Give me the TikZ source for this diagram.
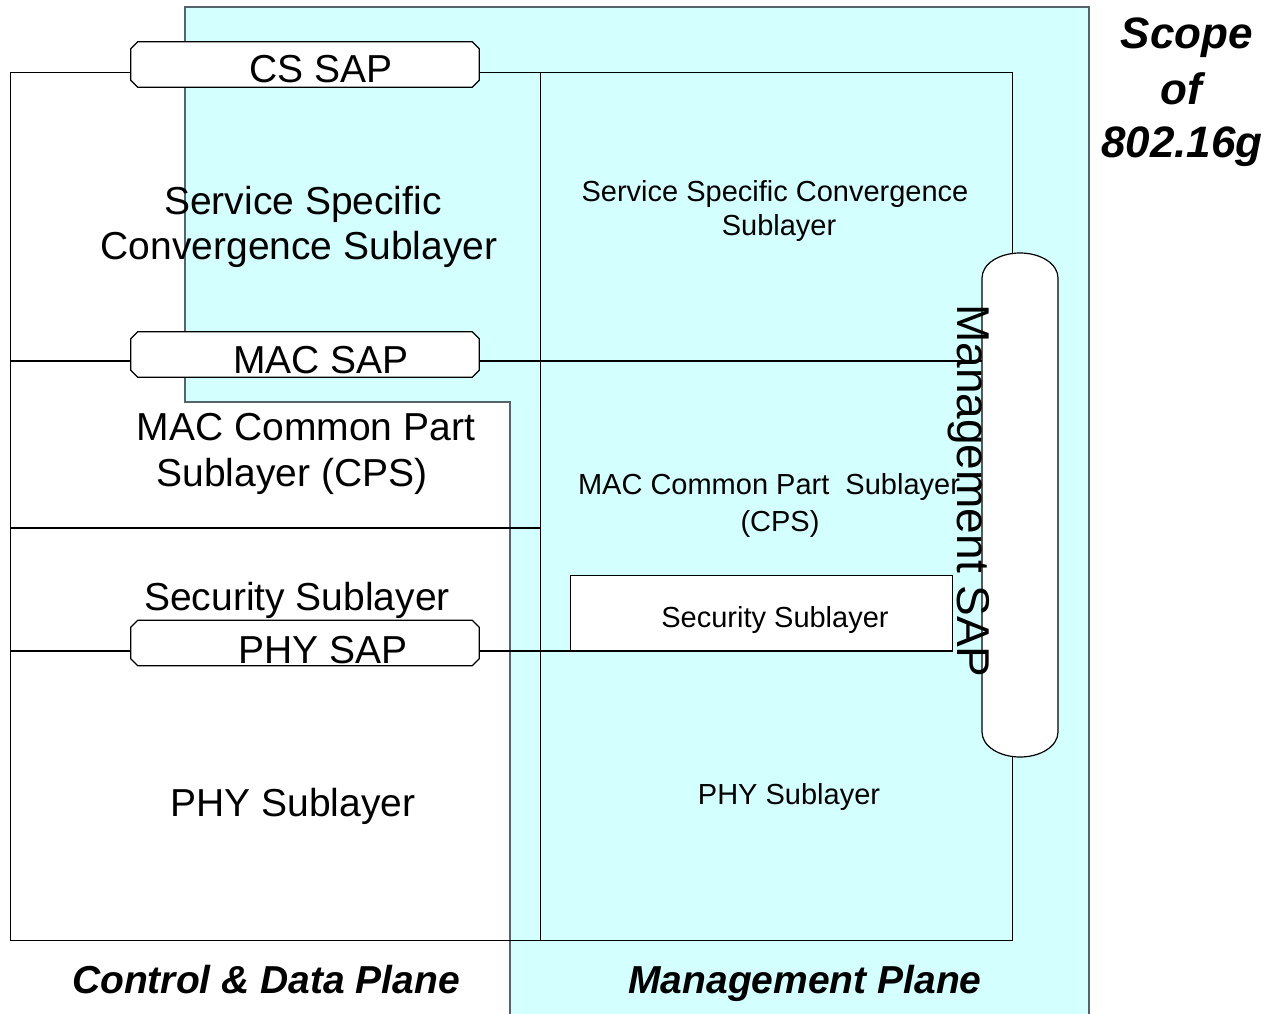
\documentclass[tikz,border=0pt]{standalone}
\usepackage{fontspec}
\setmainfont{Liberation Sans}
\usetikzlibrary{calc}
\definecolor{scopefill}{RGB}{212,255,255}
\definecolor{scopeedge}{RGB}{85,100,108}
\begin{document}
\begin{tikzpicture}[x=0.75pt,y=-0.75pt,
  line/.style={draw=black, line width=0.9pt},
  layerbox/.style={draw=black, line width=0.9pt, rectangle, inner sep=0pt, anchor=north west},
  sap/.style={rectangle, draw=none, minimum width=261pt, minimum height=33.75pt, inner sep=0pt},
  chamfer/.style={draw=black, line width=0.9pt, fill=white},
  bigtext/.style={anchor=base, inner sep=0pt, font=\fontsize{29.25pt}{35pt}\selectfont},
  smalltext/.style={anchor=base, inner sep=0pt, font=\fontsize{21.75pt}{26pt}\selectfont},
  planetext/.style={anchor=base, inner sep=0pt, font=\fontsize{29.25pt}{35pt}\selectfont\bfseries\itshape},
  scopetext/.style={anchor=base, inner sep=0pt, font=\fontsize{33pt}{40pt}\selectfont\bfseries\itshape},
  msaptext/.style={anchor=base, inner sep=0pt, rotate=-90, font=\fontsize{34.5pt}{40pt}\selectfont}]
\useasboundingbox (0,0) rectangle (1280,1013);
\fill[white] (0,0) rectangle (1280,1013);

% scope of 802.16g (cyan region)
\path[fill=scopefill, draw=scopeedge, line width=1pt]
  (185,7) -- (1089,7) -- (1089,1018) -- (510,1018) -- (510,402) -- (185,402) -- cycle;

% layer boxes
\node[layerbox, minimum width=397.5pt, minimum height=651pt] (cdp) at (10,72) {};
\node[layerbox, minimum width=354pt, minimum height=651pt] (mp) at (540,72) {};

\coordinate (ymac) at (0,361);
\coordinate (ysec) at (0,528);
\coordinate (yphy) at (0,651);
\coordinate (secr) at (952,651);
\draw[line] (cdp.west |- ymac) -- (mp.east |- ymac);
\draw[line] (cdp.west |- ysec) -- (cdp.east |- ysec);
\draw[line] (cdp.west |- yphy) -- (secr);

% security sublayer box (management plane)
\node[layerbox, fill=white, minimum width=286.5pt, minimum height=57pt] (secm) at (570,575) {};
\draw[line] (cdp.east |- yphy) -- (secr);

% SAP boxes (chamfered)
\foreach \n/\y in {cssap/64.5, macsap/354.5, physap/643}{
  \node[sap] (\n) at (305,\y) {};
  \path[chamfer]
    ($(\n.north west)+(7,0)$) -- ($(\n.north east)+(-7,0)$) -- ($(\n.north east)+(0,7)$)
    -- ($(\n.south east)+(0,-7)$) -- ($(\n.south east)+(-7,0)$) -- ($(\n.south west)+(7,0)$)
    -- ($(\n.south west)+(0,-7)$) -- ($(\n.north west)+(0,7)$) -- cycle;
}

% Management SAP
\path[fill=white, draw=black, line width=0.9pt]
  (982,278) .. controls (982,264) and (999,253) .. (1020,253)
  .. controls (1041,253) and (1058,264) .. (1058,278)
  -- (1058,732) .. controls (1058,746) and (1041,757) .. (1020,757)
  .. controls (999,757) and (982,746) .. (982,732) -- cycle;

% SAP labels
\node[bigtext] (cssapt) at (321,83) {CS SAP};
\node[bigtext] (macsapt) at (321,373) {MAC SAP};
\node[bigtext] (physapt) at (323,663) {PHY SAP};

% control & data plane texts
\node[bigtext] (sscs1) at (303,214) {Service Specific};
\node[bigtext] (sscs2) at (299,259) {Convergence Sublayer};
\node[bigtext] (cps1) at (306,440) {MAC Common Part};
\node[bigtext] (cps2) at (292,486) {Sublayer (CPS)};
\node[bigtext] (secl) at (297,610) {Security Sublayer};
\node[bigtext] (phyl) at (293,816) {PHY Sublayer};

% management plane texts
\node[smalltext] (msscs1) at (775,201) {Service Specific Convergence};
\node[smalltext] (msscs2) at (779,235) {Sublayer};
\node[smalltext] (mcps1) at (769,494) {MAC Common Part\ \ Sublayer};
\node[smalltext] (mcps2) at (780,531) {(CPS)};
\node[smalltext] (msec) at (775,627) {Security Sublayer};
\node[smalltext] (mphy) at (789,804) {PHY Sublayer};

\node[msaptext] (msapt) at (957,491) {Management SAP};

% plane labels
\node[planetext] (cdpl) at (266,993) {Control \& Data Plane};
\node[planetext] (mpl) at (805,993) {Management Plane};

% scope label
\node[scopetext] (sc1) at (1187,49) {Scope};
\node[scopetext] (sc2) at (1181,105) {of};
\node[scopetext] (sc3) at (1182,157) {802.16g};
\end{tikzpicture}
\end{document}
